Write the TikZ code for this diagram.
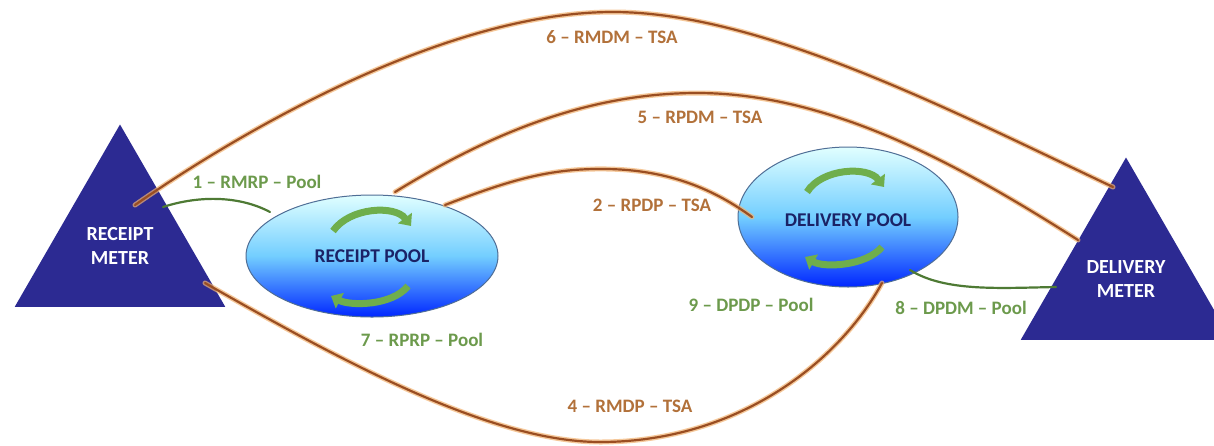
\documentclass[tikz,border=0pt]{standalone}
\usepackage{fontspec}
\setmainfont{Carlito}
\usetikzlibrary{shapes.geometric,arrows.meta}
\definecolor{navy}{HTML}{2C2A92}
\definecolor{pooltxt}{HTML}{1B2266}
\definecolor{poolline}{HTML}{4F6E96}
\definecolor{brcore}{HTML}{9A4E22}
\definecolor{brglow}{HTML}{F2B270}
\definecolor{grline}{HTML}{4E7A34}
\definecolor{grarrow}{HTML}{6FAE4C}
\definecolor{orlabel}{HTML}{B2713A}
\definecolor{grlabel}{HTML}{6C9A4C}
\tikzset{
  meter/.style={regular polygon, regular polygon sides=3, minimum size=243pt, inner sep=0pt,
    fill=navy, text=white, align=center, font=\bfseries\fontsize{20}{24}\selectfont},
  pool/.style={ellipse, draw=poolline, line width=1pt, top color=cyan!12, bottom color=blue!85!cyan,
    middle color=blue!35!cyan!55},
  pooltext/.style={text=pooltxt, font=\bfseries\fontsize{19.5}{22}\selectfont},
  tsaglow/.style={draw=brglow, line width=5pt, line cap=round, opacity=0.7},
  tsacore/.style={draw=brcore, line width=2.2pt, line cap=round},
  poolconn/.style={draw=grline, line width=2.2pt, line cap=round},
  cycarrow/.style={draw=grarrow, line width=7pt, -{Triangle[length=10pt,width=17pt]}},
  orlab/.style={text=orlabel, font=\bfseries\fontsize{19}{22}\selectfont},
  grlab/.style={text=grlabel, font=\bfseries\fontsize{19}{22}\selectfont},
}
\begin{document}
\begin{tikzpicture}[x=1pt,y=-1pt]
\useasboundingbox (0,0) rectangle (1214,445);
\fill[white] (0,0) rectangle (1214,445);
% meters
\node[meter] (rm) at (120,246) {RECEIPT\\METER};
\node[meter] (dm) at (1126,279) {DELIVERY\\METER};
% pools
\node[pool, minimum width=252pt, minimum height=122pt] (rp) at (372,256) {};
\node[pool, minimum width=220pt, minimum height=140pt] (dp) at (848,217) {};
\node[pooltext] (rpt) at (372,256) {RECEIPT POOL};
\node[pooltext] (dpt) at (848,220) {DELIVERY POOL};
% cycle arrows
\draw[cycarrow] (333,231) .. controls (350,207) and (395,205) .. (411,226);
\draw[cycarrow] (408,286) .. controls (392,306) and (350,306) .. (331,296);
\draw[cycarrow] (807,192) .. controls (822,168) and (868,166) .. (884,187);
\draw[cycarrow] (882,247) .. controls (866,266) and (824,268) .. (805,257);
% endpoints
\coordinate (a6) at (135,205);
\coordinate (b6) at (1113,187);
\coordinate (a5) at (395,192);
\coordinate (b5) at (1078,240);
\coordinate (a2) at (445,205);
\coordinate (b2) at (752,217);
\coordinate (a4) at (205,283);
\coordinate (b4) at (882,283);
\coordinate (a1) at (163,207);
\coordinate (b1) at (270,212);
\coordinate (a8) at (910,270);
\coordinate (b8) at (1056,287);
% TSA connectors
\foreach \s in {tsaglow,tsacore}{
  \draw[\s] (a6) .. controls (250,125) and (450,12) .. (613,12) .. controls (760,12) and (950,110) .. (b6);
  \draw[\s] (a5) .. controls (480,140) and (580,93) .. (697,93) .. controls (830,93) and (960,165) .. (b5);
  \draw[\s] (a2) .. controls (510,180) and (550,168) .. (607,169) .. controls (670,170) and (715,190) .. (b2);
  \draw[\s] (a4) .. controls (340,360) and (490,442) .. (600,442) .. controls (740,442) and (840,360) .. (b4);
}
% pool connectors
\draw[poolconn] (a1) .. controls (200,195) and (240,196) .. (b1);
\draw[poolconn] (a8) .. controls (945,292) and (1000,288) .. (b8);
% labels
\node[orlab] (l6) at (612,37) {6 – RMDM – TSA};
\node[orlab] (l5) at (700,117) {5 – RPDM – TSA};
\node[orlab] (l2) at (652,205) {2 – RPDP – TSA};
\node[orlab] (l4) at (630,406) {4 – RMDP – TSA};
\node[grlab] (l1) at (257,182) {1 – RMRP – Pool};
\node[grlab] (l7) at (422,340) {7 – RPRP – Pool};
\node[grlab] (l9) at (751,305) {9 – DPDP – Pool};
\node[grlab] (l8) at (961,308) {8 – DPDM – Pool};
\end{tikzpicture}
\end{document}
